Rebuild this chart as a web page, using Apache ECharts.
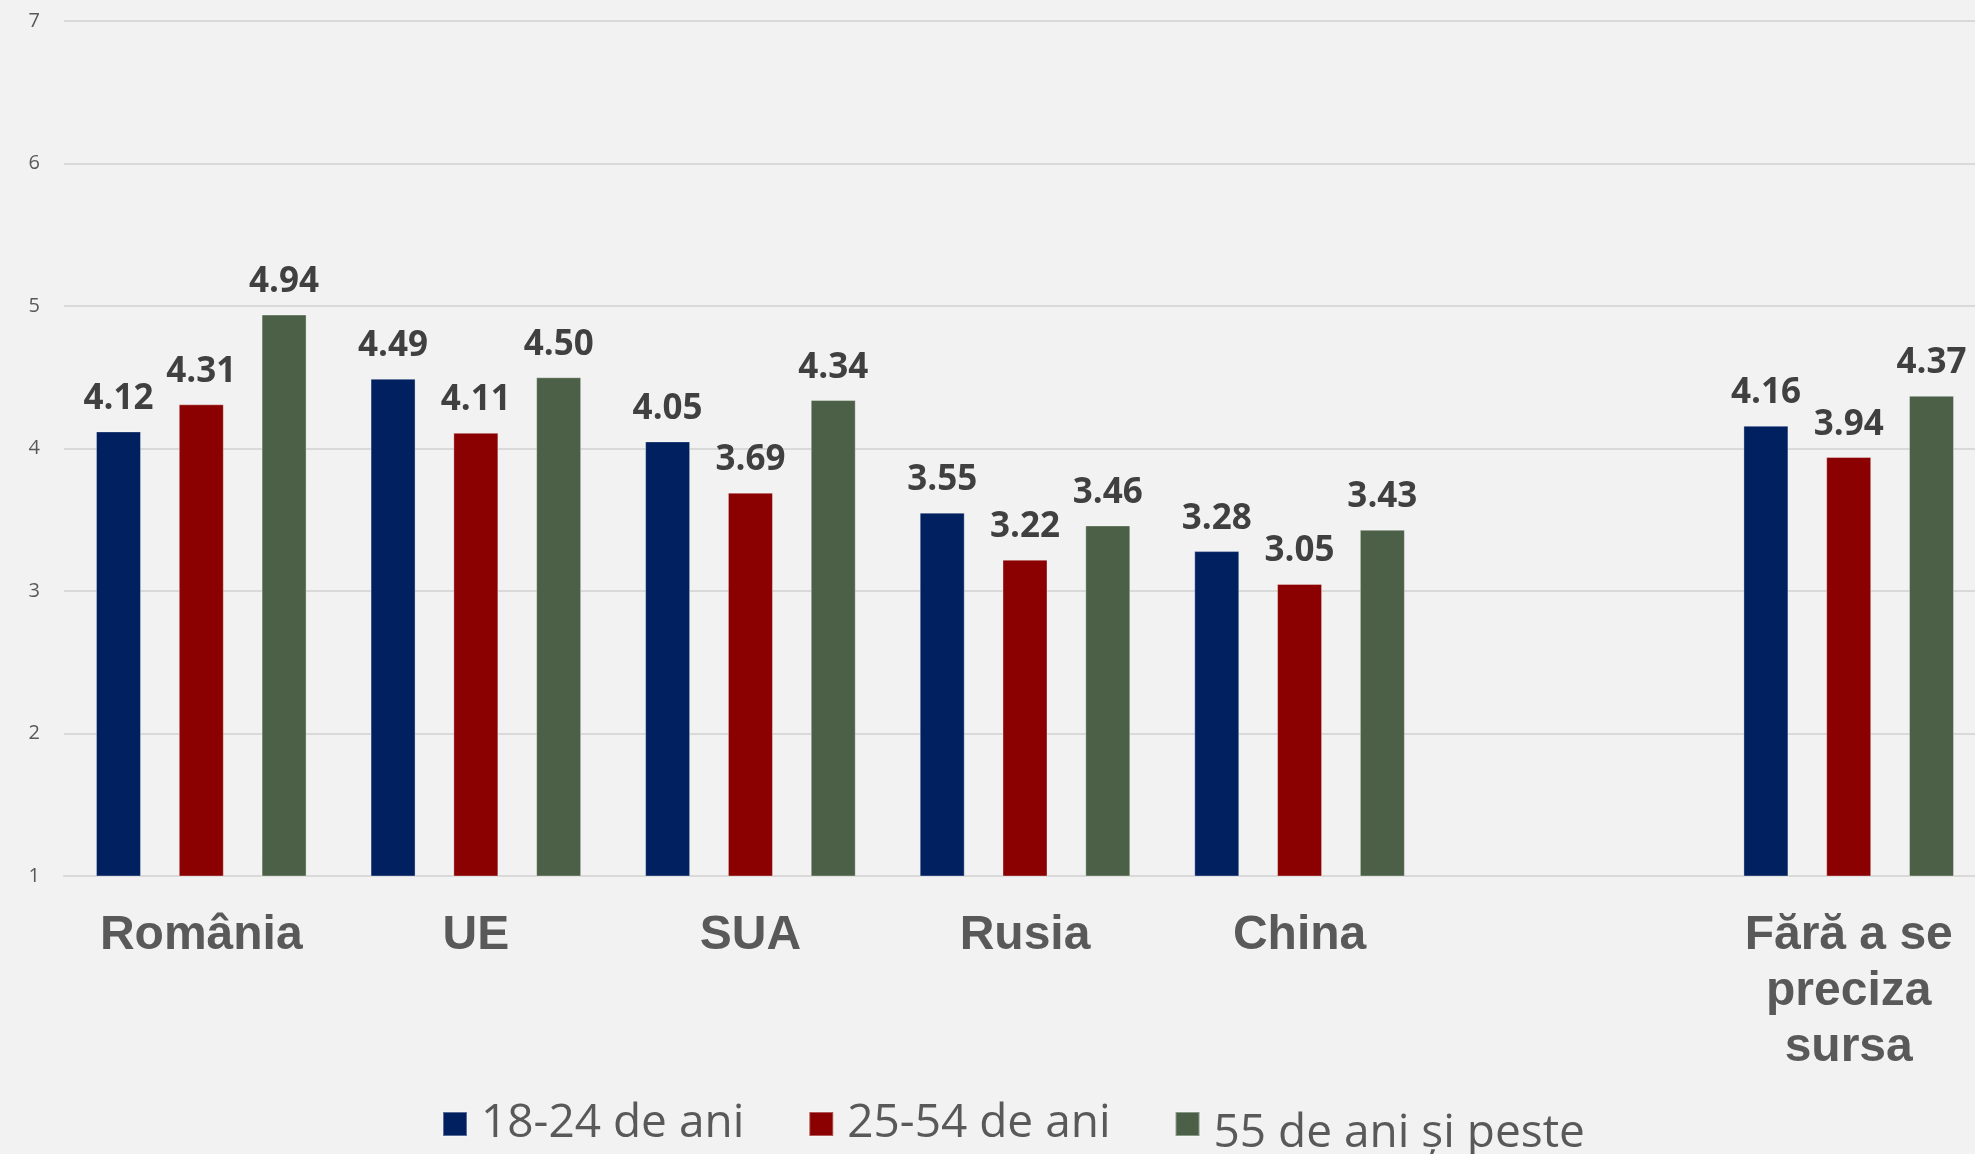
<!DOCTYPE html>
<html>
<head>
<meta charset="utf-8">
<script src="https://cdn.jsdelivr.net/npm/echarts@6/dist/echarts.min.js"></script>
<style>
  html, body { margin: 0; padding: 0; background: #f2f2f2; overflow: hidden; }
  /* zona graficului iese putin din imagine in dreapta */
  #chart { width: 1986px; height: 1154px; }
</style>
</head>
<body>
<div id="chart"></div>
<script>
// categorii (a sasea e goala, lasa spatiu in grafic)
var categories = ['România', 'UE', 'SUA', 'Rusia', 'China', '', 'Fără a se\npreciza\nsursa']
var seriesNames = ['18-24 de ani', '25-54 de ani', '55 de ani și peste']
var age18to24 = [4.12, 4.49, 4.05, 3.55, 3.28, null, 4.16]
var age25to54 = [4.31, 4.11, 3.69, 3.22, 3.05, null, 3.94]
var age55plus = [4.94, 4.50, 4.34, 3.46, 3.43, null, 4.37]
var yTicks = [1, 7, 1] // min, max, pas

var colors = ['#002060', '#8b0000', '#4b6046']

var chart = echarts.init(document.getElementById('chart'))

function barSeries(name, data, color) {
  return {
    name: name,
    type: 'bar',
    data: data,
    barWidth: 45,
    barGap: '84%',
    itemStyle: {
      color: color,
      borderColor: 'rgba(255,255,255,0.35)',
      borderWidth: 1
    },
    label: {
      show: true,
      position: 'top',
      distance: 15,
      fontFamily: 'Open Sans',
      fontWeight: 'bold',
      fontSize: 35,
      color: '#404040',
      formatter: function (p) { return p.value == null ? '' : p.value.toFixed(2) }
    }
  }
}

var legendText = {
  fontFamily: 'Open Sans',
  fontSize: 46,
  color: '#595959'
}

var option = {
  backgroundColor: '#f2f2f2',
  animation: false,
  grid: {
    left: 64,
    right: 0,
    top: 21,
    bottom: 278
  },
  legend: {
    left: 437,
    top: 1096,
    icon: 'rect',
    itemWidth: 24,
    itemHeight: 24,
    itemGap: 64,
    textStyle: {
      fontFamily: 'Open Sans',
      fontSize: 46,
      color: '#595959',
      rich: {
        t: Object.assign({ padding: [0, 0, 0, 9] }, legendText),
        low: Object.assign({ padding: [20, 0, 0, 9] }, legendText)
      }
    },
    // ultimul element apare putin mai jos in original
    formatter: function (name) {
      return name === seriesNames[2] ? '{low|' + name + '}' : '{t|' + name + '}'
    },
    data: seriesNames
  },
  xAxis: {
    type: 'category',
    data: categories,
    axisLine: { show: true, lineStyle: { color: '#d9d9d9', width: 2 } },
    axisTick: { show: false },
    axisLabel: {
      interval: 0,
      margin: 32,
      fontFamily: 'Liberation Sans',
      fontWeight: 'bold',
      fontSize: 48,
      lineHeight: 56,
      color: '#595959'
    }
  },
  yAxis: {
    type: 'value',
    min: yTicks[0],
    max: yTicks[1],
    interval: yTicks[2],
    axisLine: { show: false },
    axisTick: { show: false },
    splitLine: { lineStyle: { color: '#d9d9d9', width: 2 } },
    axisLabel: {
      margin: 24,
      fontFamily: 'Open Sans',
      fontSize: 20,
      color: '#595959'
    }
  },
  series: [
    barSeries(seriesNames[0], age18to24, colors[0]),
    barSeries(seriesNames[1], age25to54, colors[1]),
    barSeries(seriesNames[2], age55plus, colors[2])
  ]
}
chart.setOption(option)
</script>
</body>
</html>
